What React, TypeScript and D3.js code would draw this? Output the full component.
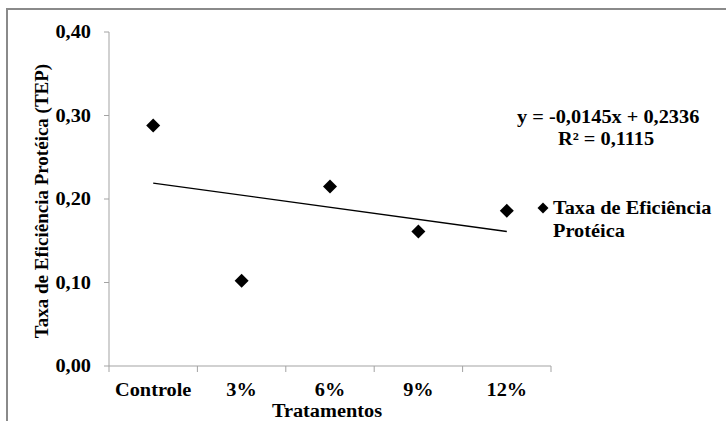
import React from 'react';
import * as d3 from 'd3';

const categories = ['Controle', '3%', '6%', '9%', '12%'];
const tepValues = [0.288, 0.102, 0.215, 0.161, 0.186];
const yTicks = [0, 0.1, 0.2, 0.3, 0.4];
const trendSlope = -0.0145;
const trendIntercept = 0.2336;
const equationLabel = 'y = -0,0145x + 0,2336';
const r2Label = 'R² = 0,1115';
const seriesName = ['Taxa de Eficiência', 'Protéica'];
const yTitle = 'Taxa de Eficiência Protéica (TEP)';
const xTitle = 'Tratamentos';

const W = 726;
const H = 421;
const FONT = '"Liberation Serif", "Times New Roman", serif';
const SX = 1.13; // text in the source is drawn a bit wider than the font

// small helper: bold serif text, horizontally stretched
const T: React.FC<{ x: number; y: number; anchor?: string; size?: number; children: React.ReactNode }> = ({
  x, y, anchor = 'start', size = 18, children,
}) => (
  <text
    transform={`translate(${x},${y}) scale(${SX},1)`}
    textAnchor={anchor}
    fontFamily={FONT}
    fontWeight="bold"
    fontSize={size}
    fill="#000"
  >
    {children}
  </text>
);

export default function App() {
  const margin = { top: 32, left: 109, bottom: 55, right: 175 };

  const x = d3.scaleBand<string>()
    .domain(categories)
    .range([margin.left, W - margin.right])
    .padding(0);

  const y = d3.scaleLinear()
    .domain([0, 0.4])
    .range([H - margin.bottom, margin.top]);

  const fmt = (v: number) => d3.format('.2f')(v).replace('.', ',');
  const cx = (c: string) => (x(c) ?? 0) + x.bandwidth() / 2;

  const diamond = d3.symbol(d3.symbolSquare, 98)();
  const legendDiamond = d3.symbol(d3.symbolSquare, 60)();

  // trendline from first to last category (x = 1..5)
  const trendPts: [number, number][] = [1, categories.length].map(i => [
    cx(categories[i - 1]),
    y(trendIntercept + trendSlope * i),
  ]);
  const trendPath = d3.line()(trendPts) || '';

  const y0 = y(0);
  const [xr0, xr1] = x.range();
  const axisColor = '#a3a3a3';

  return (
    <svg
      width={W}
      height={H}
      style={{ position: 'fixed', left: 0, top: 0, background: '#fff' }}
    >
      {/* outer chart frame (cropped right & bottom) */}
      <path d={`M${W},9 H7 V${H}`} fill="none" stroke="#8a8a8a" strokeWidth={2} />

      {/* y axis */}
      <line x1={xr0} x2={xr0} y1={y(0.4)} y2={y0} stroke={axisColor} />
      {yTicks.map(t => (
        <g key={t}>
          <line x1={xr0 - 5} x2={xr0} y1={y(t)} y2={y(t)} stroke={axisColor} />
          <T x={91} y={y(t) + 6} anchor="end">{fmt(t)}</T>
        </g>
      ))}

      {/* x axis */}
      <line x1={xr0} x2={xr1} y1={y0} y2={y0} stroke={axisColor} />
      {[...categories.map(c => x(c) ?? 0), xr1].map((bx, i) => (
        <line key={i} x1={bx} x2={bx} y1={y0} y2={y0 + 6} stroke={axisColor} />
      ))}
      {categories.map(c => (
        <T key={c} x={cx(c)} y={396} anchor="middle">{c}</T>
      ))}

      {/* axis titles */}
      <text
        transform={`translate(48,${(y(0.4) + y0) / 2 + 2}) rotate(-90)`}
        textAnchor="middle"
        fontFamily={FONT}
        fontWeight="bold"
        fontSize={19}
      >
        {yTitle}
      </text>
      <T x={327} y={417} anchor="middle">{xTitle}</T>

      {/* trendline */}
      <path d={trendPath} fill="none" stroke="#000" strokeWidth={1.3} />

      {/* points */}
      {categories.map((c, i) => (
        <path
          key={c}
          d={diamond || ''}
          transform={`translate(${cx(c)},${y(tepValues[i])}) rotate(45)`}
          fill="#000"
        />
      ))}

      {/* trendline label */}
      <T x={517} y={123}>{equationLabel}</T>
      <T x={558} y={145}>{r2Label}</T>

      {/* legend */}
      <path d={legendDiamond || ''} transform="translate(543,208) rotate(45)" fill="#000" />
      <T x={553} y={214}>{seriesName[0]}</T>
      <T x={553} y={237}>{seriesName[1]}</T>
    </svg>
  );
}
